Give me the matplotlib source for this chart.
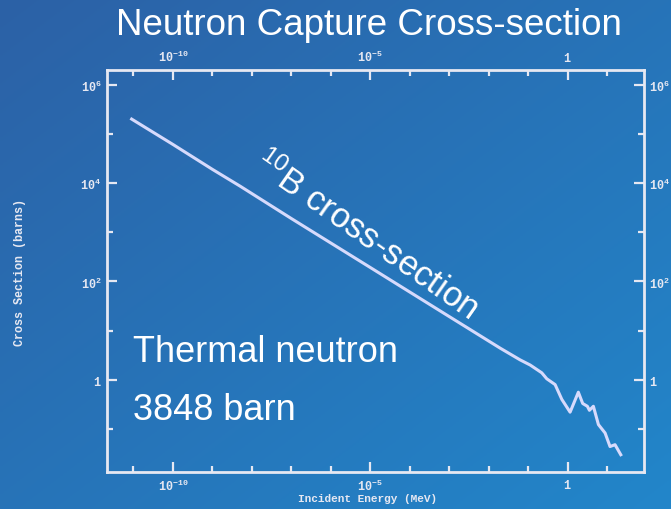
import numpy as np
import matplotlib
matplotlib.use('Agg')
import matplotlib.pyplot as plt
from matplotlib.ticker import FixedLocator, NullFormatter

# Data (energy in MeV, cross-section in barns)
energy_mev = [9e-12, 1e-10, 1e-9, 5.1e-9, 1e-7, 1e-5, 1e-3, 3.4e-3, 0.0195,
              0.062, 0.112, 0.22, 0.295, 0.48, 0.71, 1.15, 1.86, 2.4, 3.15,
              3.55, 4.47, 6.0, 8.85, 11.8, 15.8, 22.1]
sigma_barn = [2.0e5, 6.1e4, 1.9e4, 8.6e3, 1.9e3, 192, 19.3, 10.5, 4.4,
              2.55, 2.0, 1.39, 1.05, 0.80, 0.40, 0.22, 0.56, 0.33, 0.29,
              0.24, 0.29, 0.123, 0.083, 0.044, 0.048, 0.030]

x_major = [1e-10, 1e-5, 1]
x_major_labels = [r'$\mathtt{10^{-10}}$', r'$\mathtt{10^{-5}}$', r'$\mathtt{1}$']
y_major = [1e6, 1e4, 1e2, 1]
y_major_labels = [r'$\mathtt{10^{6}}$', r'$\mathtt{10^{4}}$', r'$\mathtt{10^{2}}$', r'$\mathtt{1}$']

plt.rcParams['mathtext.fontset'] = 'custom'
plt.rcParams['mathtext.tt'] = 'Liberation Mono:bold'
plt.rcParams['mathtext.rm'] = 'Liberation Sans'
plt.rcParams['mathtext.it'] = 'Liberation Sans:italic'
plt.rcParams['mathtext.bf'] = 'Liberation Sans:bold'

W, H = 671, 510
fig = plt.figure(figsize=(W / 100, H / 100), dpi=100)

# diagonal blue background gradient
bg = fig.add_axes([0, 0, 1, 1])
gx, gy = np.meshgrid(np.linspace(0, 1, 200), np.linspace(0, 1, 200))
t = (gx + gy) / 2
c0 = np.array([44, 97, 166]) / 255
c1 = np.array([34, 134, 202]) / 255
img = c0[None, None, :] * (1 - t[..., None]) + c1[None, None, :] * t[..., None]
bg.imshow(img, extent=[0, 1, 0, 1], aspect='auto', origin='upper')
bg.axis('off')

fg = '#e6e8f2'
ax = fig.add_axes([107 / W, 1 - 473 / H, (643.5 - 107) / W, (473 - 70.7) / H])
ax.set_facecolor('none')
ax.plot(energy_mev, sigma_barn, color='#d6dafc', lw=2.2, solid_joinstyle='round')

ax.set_xscale('log')
ax.set_yscale('log')
ax.set_xlim(10 ** -11.67, 10 ** 1.92)
ax.set_ylim(10 ** -1.874, 10 ** 6.305)

ax.xaxis.set_major_locator(FixedLocator(x_major))
ax.xaxis.set_minor_locator(FixedLocator([10.0 ** k for k in range(-11, 2) if k % 5]))
ax.yaxis.set_major_locator(FixedLocator(y_major))
ax.yaxis.set_minor_locator(FixedLocator([10.0 ** k for k in range(-1, 6, 2)]))
ax.set_xticklabels(x_major_labels)
ax.set_yticklabels(y_major_labels)
ax.xaxis.set_minor_formatter(NullFormatter())
ax.yaxis.set_minor_formatter(NullFormatter())

for s in ax.spines.values():
    s.set_color(fg)
    s.set_linewidth(2)
ax.tick_params(which='both', direction='in', top=True, right=True,
               labeltop=True, labelright=True, color=fg, labelcolor=fg,
               labelsize=8.5, width=1.6)
ax.tick_params(which='major', length=7)
ax.tick_params(which='minor', length=4)
ax.tick_params(axis='x', which='major', pad=4)
ax.tick_params(axis='y', which='major', pad=4)

# axis labels
fig.text(368 / W, 1 - 499 / H, 'Incident Energy (MeV)', ha='center', va='center',
         color=fg, fontsize=8, family='Liberation Mono', weight='bold')
fig.text(20 / W, 1 - 273 / H, 'Cross Section (barns)', ha='center', va='center',
         rotation=90, color=fg, fontsize=8.5, family='Liberation Mono', weight='bold')

# title and annotations
fig.text(369 / W, 1 - 34.6 / H, 'Neutron Capture Cross-section', ha='center',
         va='baseline', color='white', fontsize=26.5, family='Liberation Sans')
fig.text(133 / W, 1 - 361.7 / H, 'Thermal neutron', ha='left', va='baseline',
         color='white', fontsize=26, family='Liberation Sans')
fig.text(133 / W, 1 - 420 / H, '3848 barn', ha='left', va='baseline',
         color='white', fontsize=26, family='Liberation Sans')
fig.text(366 / W, 1 - 236 / H, r'$^{10}$B cross-section', ha='center', va='center',
         rotation=-35, rotation_mode='anchor', color='white', fontsize=25,
         family='Liberation Sans')

fig.savefig('out.png', dpi=100)
